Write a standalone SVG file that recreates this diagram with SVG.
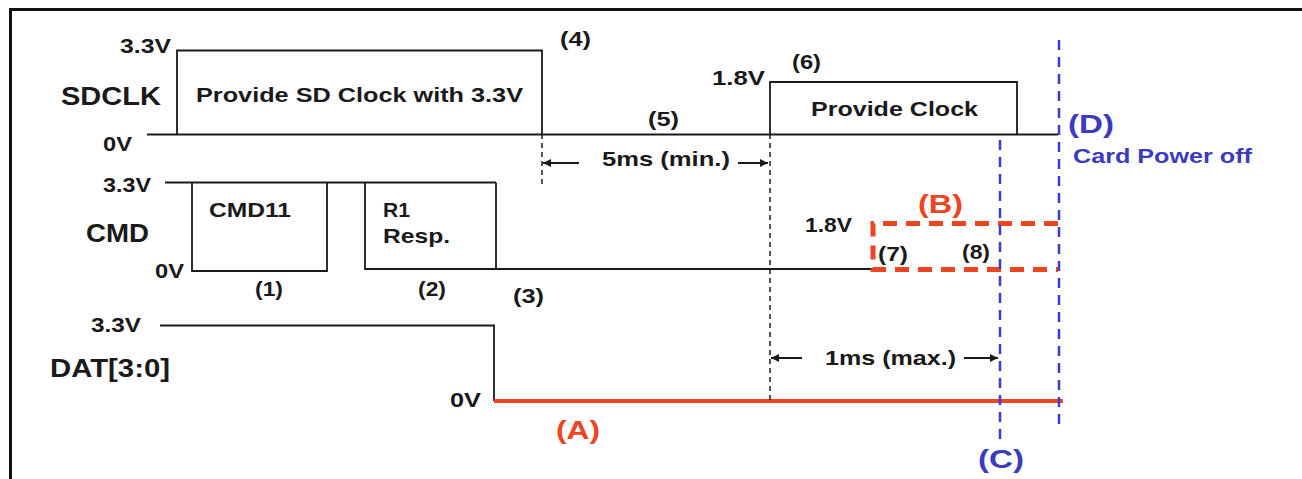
<svg xmlns="http://www.w3.org/2000/svg" width="1302" height="479" viewBox="0 0 1302 479">
<style>
text{font-family:"Liberation Sans",Arial,sans-serif;font-weight:bold;fill:#1a1a1a;lengthAdjust:spacingAndGlyphs}
.s{font-size:21px}
.l{font-size:26px}
.blue{fill:#3b3bbf}
.red{fill:#ee4422}
.sig{fill:none;stroke:#1a1a1a;stroke-width:1.8}
.dk{fill:none;stroke:#1a1a1a;stroke-width:1.5;stroke-dasharray:5 4}
.db{fill:none;stroke:#3b3bcc;stroke-width:2.5;stroke-dasharray:10 7}
.ar{stroke:#1a1a1a;stroke-width:2;marker-end:url(#ah)}
</style>
<defs>
<marker id="ah" viewBox="0 0 10 10" refX="10" refY="5" markerWidth="10" markerHeight="8" markerUnits="userSpaceOnUse" orient="auto">
<path d="M0,0 L10,5 L0,10 z" fill="#1a1a1a"/>
</marker>
</defs>
<rect width="1302" height="479" fill="#fff"/>
<path d="M10.5,479 V9.5 H1302" fill="none" stroke="#111" stroke-width="3"/>

<g id="sdclk">
<path class="sig" d="M147,134.5 H1058 M177,134.5 V50.5 H542 V134.5 M770,134.5 V82 H1017 V134.5"/>
<text class="s" x="120" y="53" textLength="51" lengthAdjust="spacingAndGlyphs">3.3V</text>
<text class="l" x="61" y="105" textLength="100" lengthAdjust="spacingAndGlyphs">SDCLK</text>
<text class="s" x="103" y="151" textLength="29" lengthAdjust="spacingAndGlyphs">0V</text>
<text class="s" x="196" y="102" textLength="327" lengthAdjust="spacingAndGlyphs">Provide SD Clock with 3.3V</text>
<text class="s" x="560" y="46" textLength="31" lengthAdjust="spacingAndGlyphs">(4)</text>
<text class="s" x="648" y="126" textLength="31" lengthAdjust="spacingAndGlyphs">(5)</text>
<text class="s" x="712" y="85" textLength="53" lengthAdjust="spacingAndGlyphs">1.8V</text>
<text class="s" x="792" y="69" textLength="29" lengthAdjust="spacingAndGlyphs">(6)</text>
<text class="s" x="811" y="116" textLength="167" lengthAdjust="spacingAndGlyphs">Provide Clock</text>
</g>

<g id="cmd">
<path class="sig" d="M165,182.5 H496 M192,182.5 V271 H327 V182.5 M365,182.5 V269 H873 M496,182.5 V269"/>
<text class="s" x="103" y="192" textLength="48" lengthAdjust="spacingAndGlyphs">3.3V</text>
<text class="l" x="86" y="242" textLength="63" lengthAdjust="spacingAndGlyphs">CMD</text>
<text class="s" x="155" y="278" textLength="29" lengthAdjust="spacingAndGlyphs">0V</text>
<text class="s" x="209" y="217" textLength="82" lengthAdjust="spacingAndGlyphs">CMD11</text>
<text class="s" x="383" y="217" textLength="27" lengthAdjust="spacingAndGlyphs">R1</text>
<text class="s" x="383" y="243" textLength="67" lengthAdjust="spacingAndGlyphs">Resp.</text>
<text class="s" x="255" y="296" textLength="28" lengthAdjust="spacingAndGlyphs">(1)</text>
<text class="s" x="418" y="296" textLength="28" lengthAdjust="spacingAndGlyphs">(2)</text>
<text class="s" x="513" y="303" textLength="31" lengthAdjust="spacingAndGlyphs">(3)</text>
</g>

<g id="cmd-1v8">
<path d="M1058,223.5 H873 V269.5 H1058" fill="none" stroke="#ee4422" stroke-width="5" stroke-dasharray="14 9"/>
<text class="l red" x="918" y="213" textLength="45" lengthAdjust="spacingAndGlyphs">(B)</text>
<text class="s" x="805" y="232" textLength="47" lengthAdjust="spacingAndGlyphs">1.8V</text>
<text class="s" x="878" y="261" textLength="30" lengthAdjust="spacingAndGlyphs">(7)</text>
<text class="s" x="962" y="259" textLength="28" lengthAdjust="spacingAndGlyphs">(8)</text>
</g>

<g id="dat">
<path class="sig" d="M160,325.5 H494 V401"/>
<line x1="494" y1="401" x2="1063" y2="401" stroke="#ee4422" stroke-width="4"/>
<text class="s" x="91" y="332" textLength="50" lengthAdjust="spacingAndGlyphs">3.3V</text>
<text class="l" x="50" y="377" textLength="120" lengthAdjust="spacingAndGlyphs">DAT[3:0]</text>
<text class="s" x="450" y="407" textLength="31" lengthAdjust="spacingAndGlyphs">0V</text>
<text class="l red" x="556" y="439" textLength="44" lengthAdjust="spacingAndGlyphs">(A)</text>
</g>

<g id="point-c">
<line class="db" x1="1000" y1="140" x2="1000" y2="440"/>
<text class="l blue" x="978" y="468" textLength="46" lengthAdjust="spacingAndGlyphs">(C)</text>
</g>

<g id="point-d">
<line class="db" x1="1059" y1="40" x2="1059" y2="428"/>
<text class="l blue" x="1068" y="133" textLength="46" lengthAdjust="spacingAndGlyphs">(D)</text>
<text class="blue" x="1073" y="163" font-size="20" textLength="179" lengthAdjust="spacingAndGlyphs">Card Power off</text>
</g>

<g id="connectors">
<line class="dk" x1="542" y1="134" x2="542" y2="186"/>
<line class="dk" x1="770" y1="134" x2="770" y2="401"/>
<line class="ar" x1="579" y1="163" x2="543" y2="163"/>
<line class="ar" x1="738" y1="163" x2="768" y2="163"/>
<line class="ar" x1="802" y1="358" x2="771" y2="358"/>
<line class="ar" x1="964" y1="358" x2="998" y2="358"/>
<text class="s" x="602" y="166" textLength="128" lengthAdjust="spacingAndGlyphs">5ms (min.)</text>
<text class="s" x="825" y="365" textLength="131" lengthAdjust="spacingAndGlyphs">1ms (max.)</text>
</g>
</svg>
